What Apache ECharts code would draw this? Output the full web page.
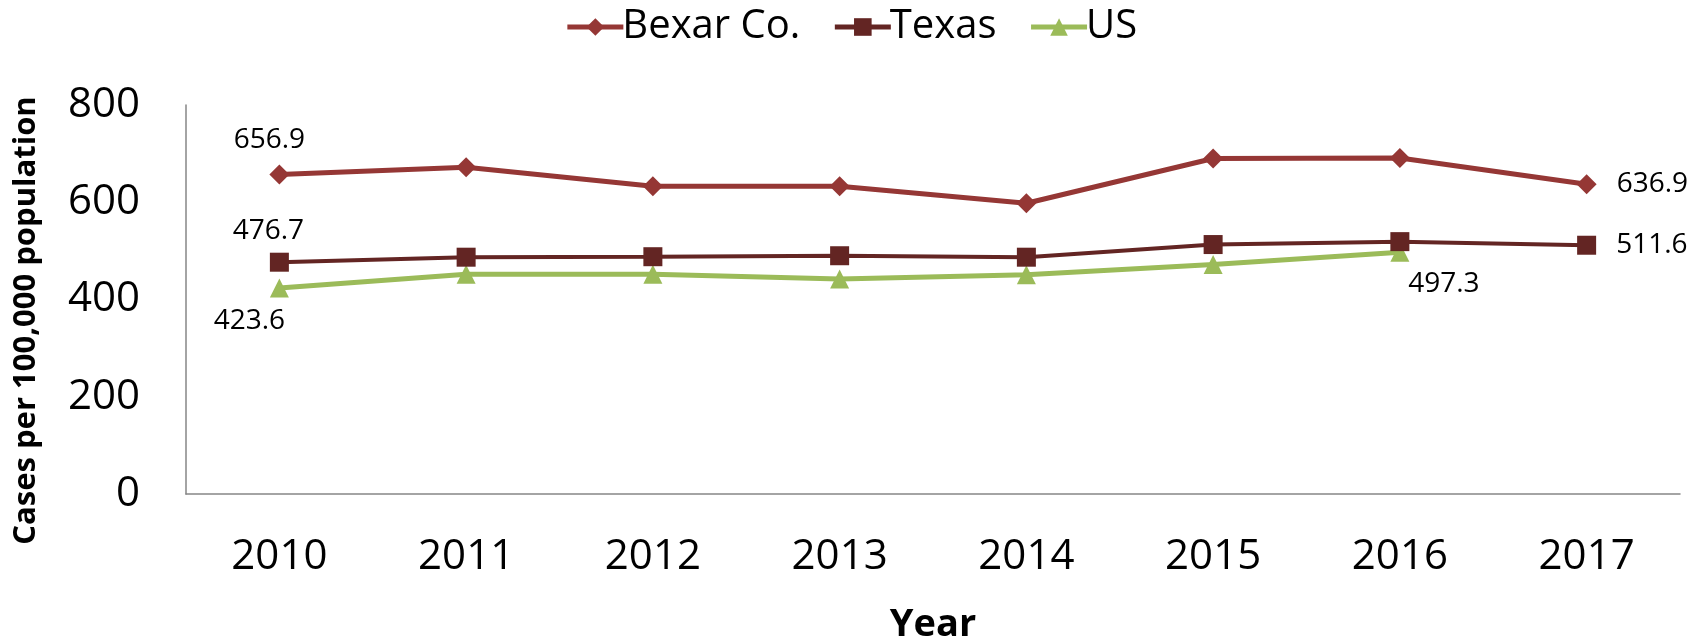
<!DOCTYPE html>
<html>
<head>
<meta charset="utf-8">
<script src="https://cdn.jsdelivr.net/npm/echarts@6/dist/echarts.min.js"></script>
<style>
  html, body { margin: 0; padding: 0; background: #fff; }
  #chart { width: 1702px; height: 642px; }
</style>
</head>
<body>
<div id="chart"></div>
<script>
// values
const years = ['2010', '2011', '2012', '2013', '2014', '2015', '2016', '2017'];
const bexar = [656.9, 672, 633, 633, 598, 690, 691, 636.9];
const texas = [476.7, 487, 488, 490, 487, 513, 519, 511.6];
const us = [423.6, 452, 452, 442, 451, 472, 497.3, null];
const yTicks = [0, 200, 400, 600, 800];

const FONT = '"Open Sans", "Noto Sans", sans-serif';

// which points carry a value label, and where it sits
const labelSpots = {
  'Bexar Co.': { 0: { position: 'inside', offset: [-10, -35] }, 7: { position: 'right', distance: 20 } },
  'Texas': { 0: { position: 'inside', offset: [-11, -31] }, 7: { position: 'right', distance: 20 } },
  'US': { 0: { position: 'inside', offset: [-30, 33] }, 6: { position: 'inside', offset: [44, 32] } }
};

const withLabels = (name, values) => values.map((v, i) => {
  const spot = labelSpots[name][i];
  if (!spot || v == null) return v;
  return {
    value: v,
    label: Object.assign({
      show: true,
      formatter: (p) => p.value.toFixed(1),
      color: '#000',
      fontFamily: FONT,
      fontSize: 28
    }, spot)
  };
});

const chart = echarts.init(document.getElementById('chart'));

const lineSeries = (name, values, color, symbol, size, width) => ({
  name,
  type: 'line',
  data: withLabels(name, values),
  symbol,
  symbolSize: size,
  showAllSymbol: true,
  connectNulls: false,
  lineStyle: { color, width },
  itemStyle: { color },
  emphasis: { disabled: true },
  z: name === 'US' ? 1 : 2
});

chart.setOption({
  animation: false,
  textStyle: { fontFamily: FONT },
  legend: {
    top: 2,
    left: 'center',
    itemWidth: 56,
    itemHeight: 22,
    itemGap: 32,
    lineStyle: { width: 5 },
    textStyle: { fontSize: 40, color: '#000', fontFamily: FONT, padding: [0, 0, 0, -6] },
    data: ['Bexar Co.', 'Texas', 'US']
  },
  grid: { left: 186, right: 22, top: 105, bottom: 148, outerBoundsMode: 'none', containLabel: false },
  xAxis: {
    type: 'category',
    data: years,
    boundaryGap: true,
    name: 'Year',
    nameLocation: 'middle',
    nameGap: 112,
    nameTextStyle: { fontSize: 38, fontWeight: 'bold', color: '#000', fontFamily: FONT },
    axisLine: { lineStyle: { color: '#868686', width: 1.5 } },
    axisTick: { show: false },
    axisLabel: { fontSize: 42, color: '#000', margin: 42, fontFamily: FONT }
  },
  yAxis: {
    type: 'value',
    min: yTicks[0],
    max: yTicks[yTicks.length - 1],
    interval: 200,
    name: 'Cases per 100,000 population',
    nameLocation: 'middle',
    nameGap: 144,
    nameTextStyle: { fontSize: 31, fontWeight: 'bold', color: '#000', fontFamily: FONT, padding: [0, 42, 0, 0] },
    axisLine: { show: true, lineStyle: { color: '#868686', width: 1.5 } },
    axisTick: { show: false },
    splitLine: { show: false },
    axisLabel: { fontSize: 42, color: '#000', margin: 46, fontFamily: FONT }
  },
  series: [
    lineSeries('Bexar Co.', bexar, '#953735', 'diamond', 20, 5),
    lineSeries('Texas', texas, '#632523', 'rect', 19, 4),
    lineSeries('US', us, '#9BBB59', 'triangle', 19, 5)
  ]
});
</script>
</body>
</html>
